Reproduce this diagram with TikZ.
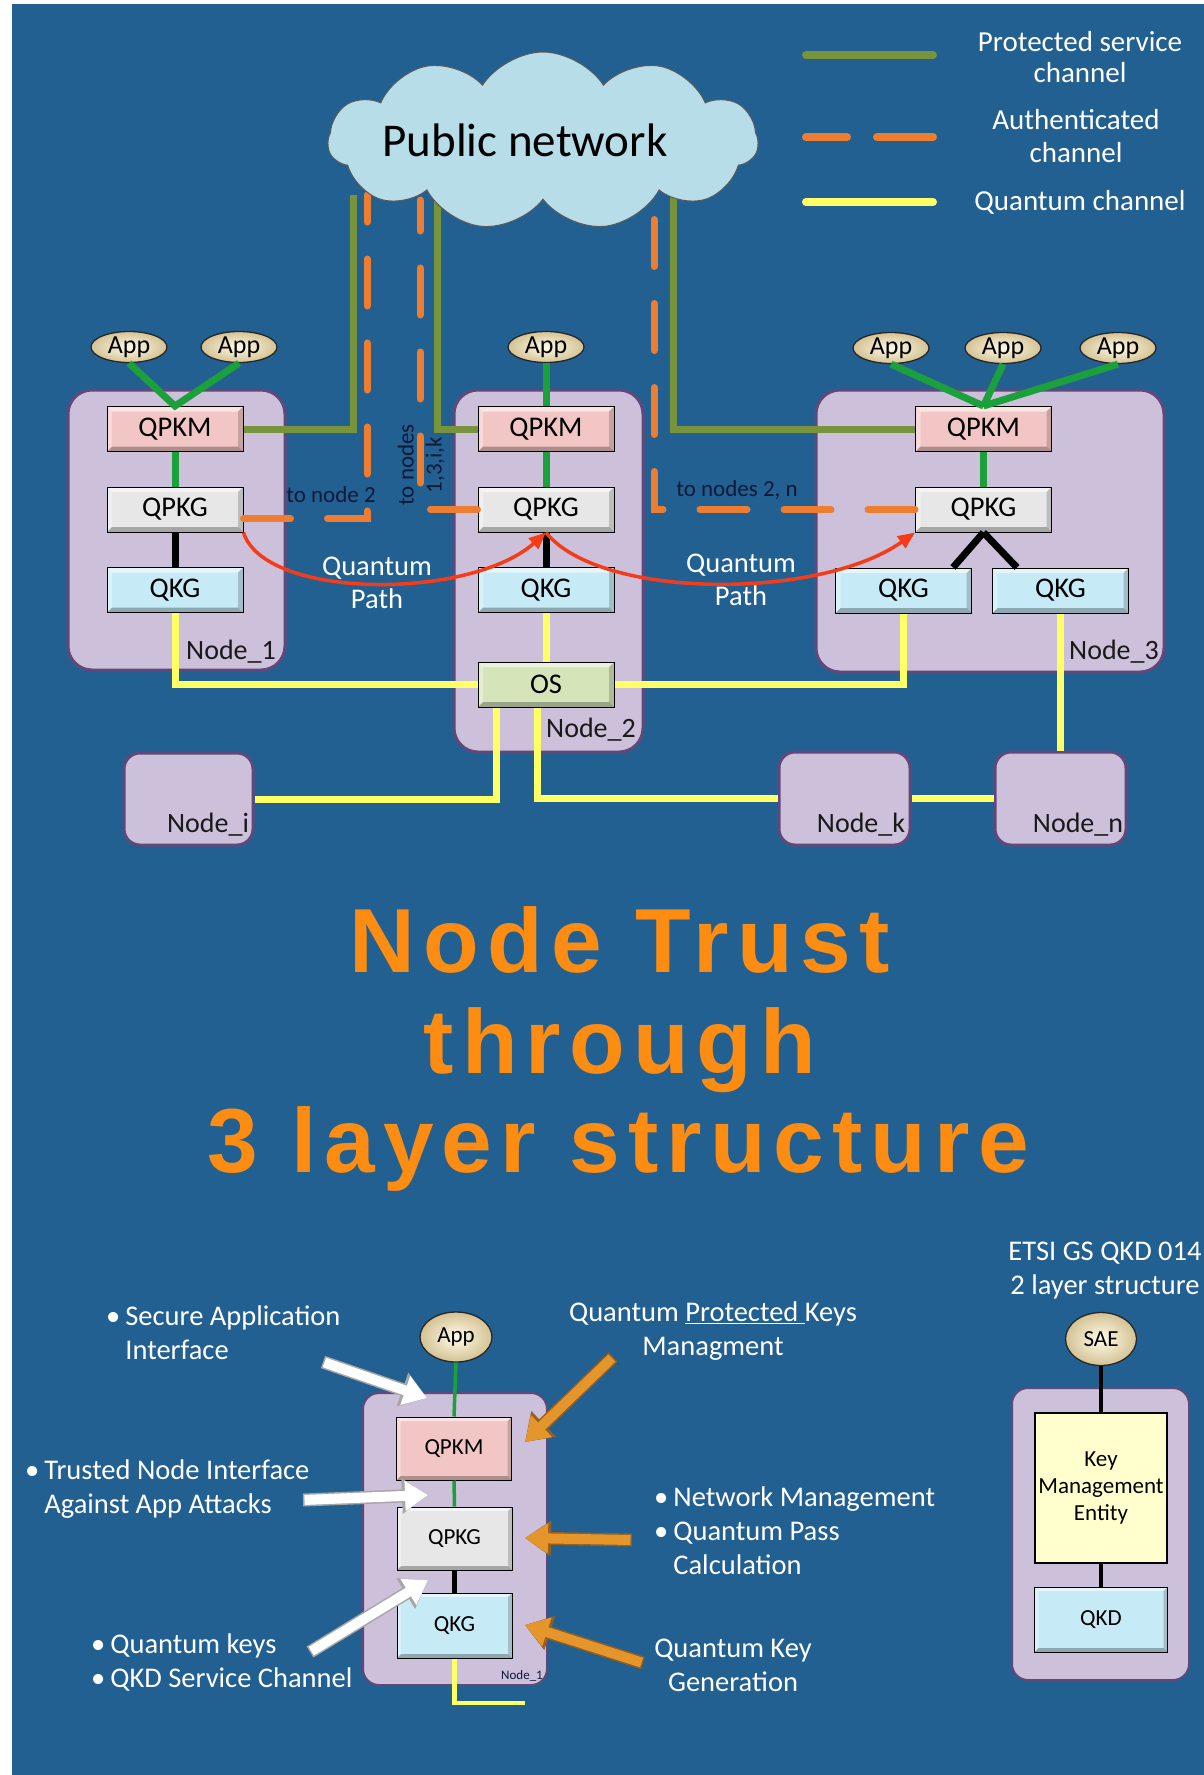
\documentclass[tikz,border=0pt]{standalone}
\usepackage{fontspec}
\setmainfont{Carlito}
\newfontfamily\titlefont[LetterSpace=8.9]{Liberation Sans}
\usetikzlibrary{shapes.symbols,shapes.geometric,arrows.meta,calc}

\definecolor{bgblue}{RGB}{35,96,146}
\definecolor{nodefill}{RGB}{204,192,218}
\definecolor{nodeline}{RGB}{96,73,122}
\definecolor{kmfill}{RGB}{242,198,196}
\definecolor{kgfill}{RGB}{231,231,231}
\definecolor{qkgfill}{RGB}{198,234,246}
\definecolor{osfill}{RGB}{214,228,186}
\definecolor{cloudfill}{RGB}{183,221,232}
\definecolor{olive}{RGB}{119,147,60}
\definecolor{appgreen}{RGB}{28,160,60}
\definecolor{authorange}{RGB}{237,125,49}
\definecolor{qyellow}{RGB}{255,255,102}
\definecolor{pathred}{RGB}{245,60,25}
\definecolor{darktext}{RGB}{15,25,55}
\definecolor{titleorange}{RGB}{252,140,18}
\definecolor{notearrow}{RGB}{228,150,45}
\definecolor{notearrowedge}{RGB}{150,95,30}
\definecolor{kmefill}{RGB}{255,255,206}
\definecolor{appcream}{RGB}{255,251,232}
\definecolor{appedge}{RGB}{212,194,148}

\tikzset{
  bevel/.style={path picture={
    \fill[white,opacity=.55] (path picture bounding box.north west) -- (path picture bounding box.north east)
      -- ([shift={(-#1,-#1)}]path picture bounding box.north east) -- ([shift={(#1,-#1)}]path picture bounding box.north west) -- cycle;
    \fill[white,opacity=.35] (path picture bounding box.north west) -- ([shift={(#1,-#1)}]path picture bounding box.north west)
      -- ([shift={(#1,#1)}]path picture bounding box.south west) -- (path picture bounding box.south west) -- cycle;
    \fill[black,opacity=.28] (path picture bounding box.south west) -- (path picture bounding box.south east)
      -- ([shift={(-#1,#1)}]path picture bounding box.south east) -- ([shift={(#1,#1)}]path picture bounding box.south west) -- cycle;
    \fill[black,opacity=.18] (path picture bounding box.north east) -- ([shift={(-#1,-#1)}]path picture bounding box.north east)
      -- ([shift={(-#1,#1)}]path picture bounding box.south east) -- (path picture bounding box.south east) -- cycle;
  }},
  bevel/.default=5pt,
  container/.style={draw=nodeline, line width=3pt, fill=nodefill, rounded corners=24pt, inner sep=0pt},
  smallbox/.style={container, rounded corners=16pt},
  comp/.style={rectangle, draw=black, line width=1pt, minimum width=136pt, minimum height=45pt,
    inner sep=0pt, bevel, font=\fontsize{28.5}{30}\selectfont},
  compb/.style={rectangle, draw=black, line width=1pt, minimum width=115pt, minimum height=63pt,
    inner sep=0pt, bevel=4pt, font=\fontsize{23}{26}\selectfont},
  app/.style={ellipse, draw=black!85, line width=1.3pt, inner color=appcream, outer color=appedge,
    minimum width=76pt, minimum height=31pt, inner sep=0pt, font=\fontsize{26}{26}\selectfont},
  appsmall/.style={app, minimum width=72pt, minimum height=50pt, font=\fontsize{23}{23}\selectfont},
  boxlabel/.style={inner sep=0pt, text=black!90, font=\fontsize{28}{28}\selectfont},
  olivewire/.style={draw=olive, line width=7pt},
  authwire/.style={draw=authorange, line width=7pt, line cap=round, dash pattern=on 47pt off 37pt},
  qwire/.style={draw=qyellow, line width=7pt},
  greenwire/.style={draw=appgreen, line width=7pt},
  blackwire/.style={draw=black, line width=7pt},
  qpath/.style={draw=pathred, line width=3.5pt, -{Triangle[length=17pt,width=14pt]}},
  wtext/.style={inner sep=0pt, text=white, font=\fontsize{28.5}{34}\selectfont},
  legtext/.style={inner sep=0pt, text=white, font=\fontsize{29}{31}\selectfont, align=center},
  dtext/.style={inner sep=0pt, text=darktext, font=\fontsize{23}{28}\selectfont},
  titleline/.style={anchor=base, inner sep=0pt, text=titleorange,
    font=\titlefont\bfseries\fontsize{91}{91}\selectfont},
}

% two-pass block arrow: outline colour, fill colour, tail, tip
\newcommand\noteArrow[4]{%
  \draw[#1, line width=13pt, -{Triangle[length=26pt,width=34pt]}] (#3) -- (#4);
  \draw[#2, line width=10pt, shorten <=1.5pt, -{Triangle[length=23pt,width=29pt]}] (#3) -- (#4);
}
% bullet followed by a small gap
\newcommand\bul{\textbullet\hspace{5pt}}

\begin{document}
\begin{tikzpicture}[x=1pt,y=-1pt]
\useasboundingbox (0,0) rectangle (1204,1775);
\fill[white] (0,0) rectangle (1204,1775);
\fill[bgblue] (12,4) rectangle (1204,1775);

% ---------------- legend ----------------
\coordinate (lg1a) at (806,55);  \coordinate (lg1b) at (933,55);
\coordinate (lg2a) at (806,137); \coordinate (lg2b) at (847,137);
\coordinate (lg2c) at (877,137); \coordinate (lg2d) at (933,137);
\coordinate (lg3a) at (806,202); \coordinate (lg3b) at (933,202);
\draw[olivewire, line width=8pt, line cap=round] (lg1a) -- (lg1b);
\draw[authorange, line width=8pt, line cap=round] (lg2a) -- (lg2b) (lg2c) -- (lg2d);
\draw[qyellow, line width=8pt, line cap=round] (lg3a) -- (lg3b);
\node[legtext] (leg1) at (1080,57.5) {Protected service\\channel};
\node[legtext, font=\fontsize{29}{33}\selectfont] (leg2) at (1076,136.5) {Authenticated\\channel};
\node[legtext] (leg3) at (1080,202) {Quantum channel};

% ---------------- node containers ----------------
\node[container, minimum width=217pt, minimum height=280pt] (n1) at (176.5,530) {};
\node[container, minimum width=189pt, minimum height=362pt] (n2) at (548.5,571) {};
\node[container, minimum width=348pt, minimum height=282pt] (n3) at (990,531) {};
\node[smallbox, minimum width=129pt, minimum height=92pt] (ni) at (188.5,799) {};
\node[smallbox, minimum width=131pt, minimum height=93pt] (nk) at (844.5,798.5) {};
\node[smallbox, minimum width=131pt, minimum height=93pt] (nn) at (1060.5,798.5) {};

\node[boxlabel] (n1lab) at (231,652) {Node\_1};
\node[boxlabel] (n2lab) at (591,730) {Node\_2};
\node[boxlabel] (n3lab) at (1114,652) {Node\_3};
\node[boxlabel] (nilab) at (208,825) {Node\_i};
\node[boxlabel] (nklab) at (861,825) {Node\_k};
\node[boxlabel] (nnlab) at (1078,825) {Node\_n};

% ---------------- components ----------------
\node[comp, fill=kmfill]  (km1) at (175,429) {QPKM};
\node[comp, fill=kgfill]  (kg1) at (175,509.5) {QPKG};
\node[comp, fill=qkgfill] (qk1) at (175,590) {QKG};

\node[comp, fill=kmfill]  (km2) at (546,429) {QPKM};
\node[comp, fill=kgfill]  (kg2) at (546,509.5) {QPKG};
\node[comp, fill=qkgfill] (qk2) at (546,590) {QKG};
\node[comp, fill=osfill]  (os)  at (546,684.5) {OS};

\node[comp, fill=kmfill]  (km3)  at (983.5,429) {QPKM};
\node[comp, fill=kgfill]  (kg3)  at (983.5,509.5) {QPKG};
\node[comp, fill=qkgfill] (qk3a) at (903.5,590.5) {QKG};
\node[comp, fill=qkgfill] (qk3b) at (1060.5,590.5) {QKG};

% ---------------- applications ----------------
\node[app] (a11) at (129,347) {App};
\node[app] (a12) at (239,347) {App};
\node[app] (a21) at (546,347) {App};
\node[app] (a31) at (891,348) {App};
\node[app] (a32) at (1003,348) {App};
\node[app] (a33) at (1118,348) {App};

% ---------------- internal links ----------------
\draw[greenwire] (a11.south) -- (km1.north) -- (a12.south);
\draw[greenwire] (a21.south) -- (km2.north);
\draw[greenwire] (a31.south) -- (km3.north) (a32.south) -- (km3.north) (a33.south) -- (km3.north);
\draw[greenwire] (km1.south) -- (kg1.north);
\draw[greenwire] (km2.south) -- (kg2.north);
\draw[greenwire] (km3.south) -- (kg3.north);
\draw[blackwire] (kg1.south) -- (qk1.north);
\draw[blackwire] (kg2.south) -- (qk2.north);
\draw[blackwire] (kg3.south) -- ($(qk3a.north east)+(-19,0)$);
\draw[blackwire] (kg3.south) -- ($(qk3b.north west)+(25,0)$);

% ---------------- protected service and authenticated channels ----------------
\coordinate (cs1) at (353,195);
\coordinate (cs2) at (437,200);
\coordinate (cs3) at (673,195);
\coordinate (ca1) at (367,195);
\coordinate (ca2) at (420,200);
\coordinate (ca3) at (654,195);
\draw[olivewire] (km1.east) -| (cs1);
\draw[olivewire] (km2.west) -| (cs2);
\draw[olivewire] (km3.west) -| (cs3);
\draw[authwire] ([yshift=-9pt]kg1.east) -| (ca1);
\draw[authwire] (kg2.west) -| (ca2);
\draw[authwire] (kg3.west) -| (ca3);

% ---------------- quantum channels ----------------
\draw[qwire] (qk1.south) |- (os.west);
\draw[qwire] (qk2.south) -- (os.north);
\draw[qwire] (qk3a.south) |- (os.east);
\draw[qwire] ([xshift=-50pt]os.south) |- (ni.east);
\draw[qwire] ([xshift=-9pt]os.south) |- (nk.west);
\draw[qwire] (nk.east) -- (nn.west);
\draw[qwire] (qk3b.south) -- (nn.north);

% ---------------- public network ----------------
\node[cloud, cloud puffs=11, cloud puff arc=115, cloud ignores aspect, minimum width=430pt,
  minimum height=178pt, fill=cloudfill, draw=black!65, line width=1pt] (cloud) at (543,141) {};
\node[inner sep=0pt, font=\fontsize{47}{47}\selectfont] (pubnet) at (525,140) {Public network};

% ---------------- channel notes ----------------
\node[dtext] (to2) at (331,495) {to node 2};
\node[dtext, rotate=90, align=center] (to13) at (421,465) {to nodes\\1,3,i,k};
\node[dtext] (to2n) at (737,490) {to nodes 2, n};

% ---------------- quantum paths ----------------
\draw[qpath] (kg1.south east) .. controls (265,600) and (470,600) .. (kg2.south);
\draw[qpath] (kg2.south) .. controls (600,600) and (820,600) .. (kg3.south west);
\node[wtext, align=center, font=\fontsize{28.5}{33}\selectfont] (qp1) at (377,583) {Quantum\\Path};
\node[wtext, align=center, font=\fontsize{28.5}{33}\selectfont] (qp2) at (741,580) {Quantum\\Path};

% ---------------- title ----------------
\node[titleline] (t1) at (620,972) {Node Trust};
\node[titleline] (t2) at (620,1073) {through};
\node[titleline] (t3) at (618,1172) {3 layer structure};

% ---------------- single node, 3 layer structure ----------------
\node[container, line width=2pt, rounded corners=16pt, minimum width=184pt, minimum height=292pt] (nb) at (455,1539) {};
\node[appsmall] (appb) at (456,1337) {App};
\node[compb, fill=kmfill]  (kmb) at (454,1448.5) {QPKM};
\node[compb, fill=kgfill]  (kgb) at (454.5,1538.5) {QPKG};
\node[compb, fill=qkgfill, minimum height=65pt] (qkb) at (454.5,1625.5) {QKG};
\node[inner sep=0pt, text=darktext, font=\fontsize{13}{13}\selectfont] (nblab) at (522,1676) {Node\_1};
\coordinate (qbend) at (525,1703);
\draw[appgreen, line width=3.5pt] (appb.south) -- (kmb.north);
\draw[appgreen, line width=3.5pt] (kmb.south) -- (kgb.north);
\draw[black, line width=4.5pt] (kgb.south) -- (qkb.north);
\draw[qyellow, line width=4.5pt] (qkb.south) |- (qbend);

% pointers
\coordinate (w1t) at (323,1362); \coordinate (w1h) at (427,1398);
\coordinate (w2t) at (303,1500); \coordinate (w2h) at (428,1495);
\coordinate (w3t) at (310,1652); \coordinate (w3h) at (428,1580);
\coordinate (o1t) at (613,1357); \coordinate (o1h) at (525,1442);
\coordinate (o2t) at (632,1540); \coordinate (o2h) at (525,1538);
\coordinate (o3t) at (643,1663); \coordinate (o3h) at (525,1625);
\noteArrow{black!35}{white}{w1t}{w1h}
\noteArrow{black!35}{white}{w2t}{w2h}
\noteArrow{black!35}{white}{w3t}{w3h}
\noteArrow{notearrowedge}{notearrow}{o1t}{o1h}
\noteArrow{notearrowedge}{notearrow}{o2t}{o2h}
\noteArrow{notearrowedge}{notearrow}{o3t}{o3h}

% annotations
\node[wtext, anchor=west, align=left] (lsec) at (106,1333)
  {\bul Secure Application\\\phantom{\bul}Interface};
\node[wtext, anchor=west, align=left] (ltrust) at (25,1489)
  {\bul Trusted Node Interface\\\phantom{\bul}Against App Attacks};
\node[wtext, anchor=west, align=left] (lkeys) at (91,1662.5)
  {\bul Quantum keys\\\bul QKD Service Channel};
\node[wtext, align=center] (lqpk) at (713,1331.5)
  {Quantum \underline{Protected\ }Keys\\Managment};
\node[wtext, anchor=west, align=left] (lnet) at (654,1531)
  {\bul Network Management\\\bul Quantum Pass\\\phantom{\bul}Calculation};
\node[wtext, align=center] (lqkg) at (733,1665) {Quantum Key\\Generation};

% ---------------- ETSI GS QKD 014, 2 layer structure ----------------
\node[wtext, align=center] (etsi) at (1105,1271) {ETSI GS QKD 014\\2 layer structure};
\node[container, line width=2pt, rounded corners=16pt, minimum width=177pt, minimum height=292pt] (ne) at (1100.5,1534) {};
\node[appsmall, minimum width=71pt, minimum height=53pt] (sae) at (1101,1339) {SAE};
\node[rectangle, draw=black, line width=1.5pt, fill=kmefill, minimum width=132pt, minimum height=150pt,
  inner sep=0pt, align=center, font=\fontsize{23}{27}\selectfont] (kme) at (1101,1488) {Key\\Management\\Entity};
\node[compb, fill=qkgfill, minimum width=133pt, minimum height=65pt] (qkd) at (1101,1619.5) {QKD};
\draw[black, line width=4.5pt] (sae.south) -- (kme.north);
\draw[black, line width=4.5pt] (kme.south) -- (qkd.north);
\end{tikzpicture}
\end{document}
